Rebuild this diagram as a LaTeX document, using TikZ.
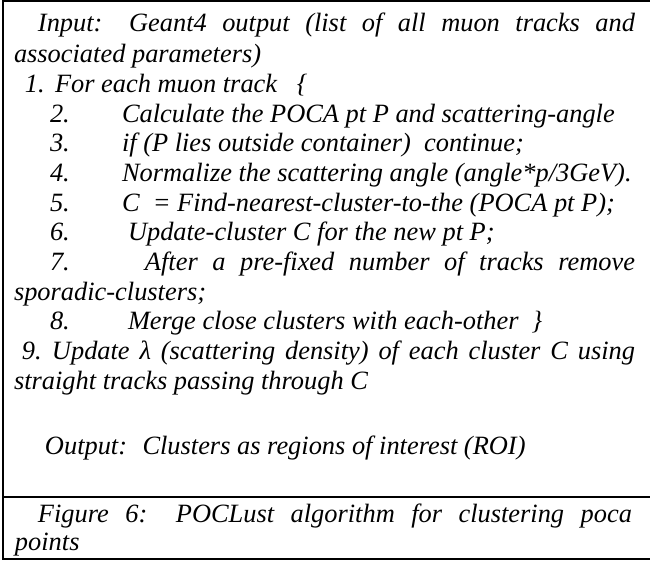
\documentclass[tikz,border=0pt]{standalone}
\usepackage{fontspec}
\setmainfont{Liberation Serif}
\begin{document}
\begin{tikzpicture}[x=0.5pt,y=-0.5pt,
  txt/.style={anchor=base west,inner sep=0pt,outer sep=0pt,
    font=\fontsize{13.2pt}{14.75pt}\selectfont\itshape},
  frame/.style={line width=1pt,black}]
\useasboundingbox (0,0) rectangle (650,561);
% frame
\draw[frame] (650,1) -- (3,1) -- (3,559) -- (650,559);
\draw[frame] (3,497) -- (650,497);
% lines
\node[txt] (l1) at (38,32) {\makebox[298.5pt][s]{Input: Geant4 output (list of all muon tracks and}};
\node[txt] (l2) at (14,63) {associated parameters)};
\node[txt] (n1) at (25,93) {1.};
\node[txt] (t1) at (55,93) {For each muon track \ \ \{};
\node[txt] (n2) at (50,123) {2.};
\node[txt] (t2) at (122,123) {Calculate the POCA pt P and scattering-angle};
\node[txt] (n3) at (50,152) {3.};
\node[txt] (t3) at (122,152) {if (P lies outside container) \ continue;};
\node[txt] (n4) at (50,182) {4.};
\node[txt] (t4) at (122,182) {Normalize the scattering angle (angle*p/3GeV).};
\node[txt] (n5) at (50,212) {5.};
\node[txt] (t5) at (122,212) {C \ = Find-nearest-cluster-to-the (POCA pt P);};
\node[txt] (n6) at (50,241) {6.};
\node[txt] (t6) at (128,241) {Update-cluster C for the new pt P;};
\node[txt] (n7) at (50,271) {7.};
\node[txt] (t7) at (145,271) {\makebox[245pt][s]{After a pre-fixed number of tracks remove}};
\node[txt] (l10) at (14,301) {sporadic-clusters;};
\node[txt] (n8) at (50,330) {8.};
\node[txt] (t8) at (128,330) {Merge close clusters with each-other \ \}};
\node[txt] (n9) at (22,360) {9.};
\node[txt] (t9) at (52,360) {\makebox[291.5pt][s]{Update λ (scattering density) of each cluster C using}};
\node[txt] (l13) at (14,390) {straight tracks passing through C};
\node[txt] (out) at (45,455) {Output: \ Clusters as regions of interest (ROI)};
\node[txt] (fig) at (38,523) {\makebox[297pt][s]{Figure 6: POCLust algorithm for clustering poca}};
\node[txt] (pts) at (15,551) {points};
\end{tikzpicture}
\end{document}
